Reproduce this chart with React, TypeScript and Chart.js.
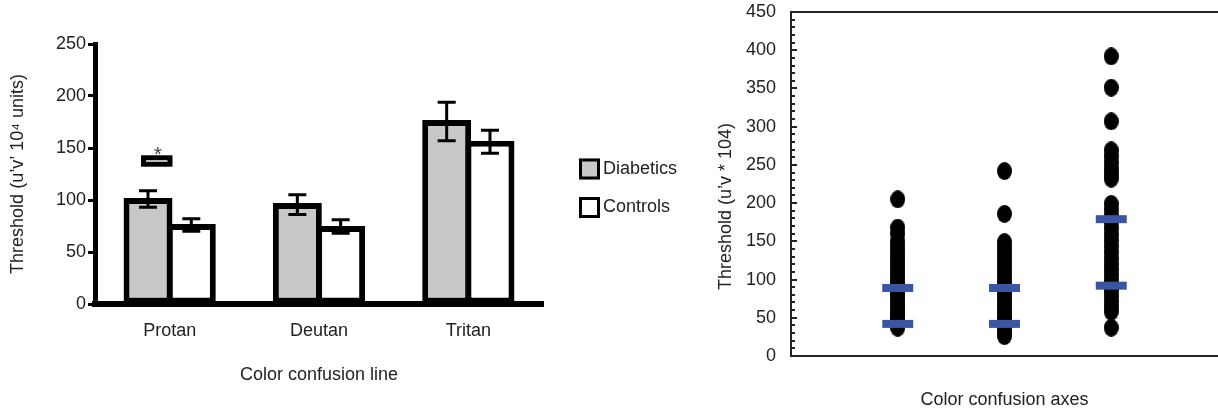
import React, { useEffect, useRef } from "react";
import { Chart, registerables } from "chart.js";

Chart.register(...registerables);

// ---------- Left chart data ----------
const categories = ["Protan", "Deutan", "Tritan"];
const diabeticsMean = [102, 97, 177];
const controlsMean = [77, 75, 157];
const diabeticsLow = [93, 86, 157];
const diabeticsHigh = [109, 105, 194];
const controlsLow = [70, 68, 145];
const controlsHigh = [82, 81, 167];
const significanceRange = [132, 143]; // bracket over Protan
const barAxisMax = 250;
const barAxisStep = 50;

// ---------- Right chart data ----------
const protanDots = [205, 168, 160, 150, 143, 136, 130, 124, 118, 112, 106, 100, 95, 90, 85, 80, 75, 70, 65, 60, 56, 52, 48, 44, 40, 37];
const deutanDots = [242, 186, 149, 143, 137, 131, 125, 119, 113, 107, 101, 96, 91, 86, 81, 76, 71, 66, 61, 56, 51, 46, 41, 36, 31, 26];
const tritanDots = [392, 351, 307, 269, 261, 253, 245, 238, 232, 199, 191, 183, 175, 167, 159, 151, 143, 135, 127, 120, 113, 106, 99, 92, 85, 78, 71, 64, 58, 37];
const upperMarks = [89, 89, 179];
const lowerMarks = [42, 42, 92];
const dotAxisMax = 450;
const dotAxisStep = 50;
const dotMinorStep = 10;

const FONT = "'Liberation Sans', Arial, Helvetica, sans-serif";
const TEXT = "#222";
const GRAY = "#c8c8c8";
const BLUE = "#3a55a4";

const errorBarPlugin = {
  id: "errorBars",
  afterDatasetsDraw(chart: any) {
    const ctx = chart.ctx;
    const y = chart.scales.y;
    const sets = [
      [diabeticsLow, diabeticsHigh],
      [controlsLow, controlsHigh],
    ];
    ctx.save();
    ctx.strokeStyle = "#000";
    ctx.lineWidth = 3;
    sets.forEach(([lo, hi], di) => {
      const meta = chart.getDatasetMeta(di);
      meta.data.forEach((bar: any, i: number) => {
        const x = bar.x;
        const y1 = y.getPixelForValue(hi[i]);
        const y2 = y.getPixelForValue(lo[i]);
        ctx.beginPath();
        ctx.moveTo(x, y1);
        ctx.lineTo(x, y2);
        ctx.moveTo(x - 9, y1);
        ctx.lineTo(x + 9, y1);
        ctx.moveTo(x - 9, y2);
        ctx.lineTo(x + 9, y2);
        ctx.stroke();
      });
    });
    // significance bracket on Protan
    const bar: any = chart.getDatasetMeta(0).data[0];
    const x1 = bar.x - 7;
    const x2 = bar.x + bar.width / 2;
    const yTop = y.getPixelForValue(significanceRange[1]);
    const yBot = y.getPixelForValue(significanceRange[0]);
    ctx.fillStyle = "#fff";
    ctx.fillRect(x1, yTop, x2 - x1, yBot - yTop);
    ctx.lineWidth = 5;
    ctx.strokeRect(x1 + 2.5, yTop + 2.5, x2 - x1 - 5, yBot - yTop - 5);
    ctx.fillStyle = "#444";
    ctx.font = `21px ${FONT}`;
    ctx.textAlign = "center";
    ctx.textBaseline = "alphabetic";
    ctx.fillText("*", (x1 + x2) / 2 + 1, yTop + 6);
    ctx.restore();
  },
};

const sideLegendPlugin = {
  id: "sideLegend",
  afterDraw(chart: any) {
    const { ctx, chartArea } = chart;
    const x = chartArea.right + 36;
    const cy = (chartArea.top + chartArea.bottom) / 2;
    ctx.save();
    chart.data.datasets.forEach((ds: any, i: number) => {
      const yc = cy - 5 + i * 38.5;
      ctx.fillStyle = ds.backgroundColor;
      ctx.fillRect(x, yc - 10.5, 21, 21);
      ctx.strokeStyle = "#000";
      ctx.lineWidth = 3;
      ctx.strokeRect(x + 1.5, yc - 9, 18, 18);
      ctx.fillStyle = TEXT;
      ctx.font = `18px ${FONT}`;
      ctx.textAlign = "left";
      ctx.textBaseline = "middle";
      ctx.fillText(ds.label, x + 24, yc);
    });
    ctx.restore();
  },
};

const frameTickPlugin = {
  id: "frameTicks",
  afterDraw(chart: any) {
    const { ctx, chartArea } = chart;
    const y = chart.scales.y;
    ctx.save();
    ctx.strokeStyle = "#222";
    ctx.lineWidth = 2;
    // top frame line
    ctx.beginPath();
    ctx.moveTo(chartArea.left, chartArea.top);
    ctx.lineTo(chartArea.right, chartArea.top);
    ctx.stroke();
    // inward minor / major ticks
    for (let v = 0; v <= dotAxisMax; v += dotMinorStep) {
      const py = Math.round(y.getPixelForValue(v));
      const len = v % dotAxisStep === 0 ? 6 : 4;
      ctx.beginPath();
      ctx.moveTo(chartArea.left, py);
      ctx.lineTo(chartArea.left + len, py);
      ctx.stroke();
    }
    ctx.restore();
  },
};

function BarChart() {
  const ref = useRef<HTMLCanvasElement>(null);
  useEffect(() => {
    const chart = new Chart(ref.current!, {
      type: "bar",
      data: {
        labels: categories,
        datasets: [
          {
            label: "Diabetics",
            data: diabeticsMean,
            backgroundColor: GRAY,
            borderColor: "#000",
            borderWidth: 6,
            borderSkipped: false,
          },
          {
            label: "Controls",
            data: controlsMean,
            backgroundColor: "#ffffff",
            borderColor: "#000",
            borderWidth: 6,
            borderSkipped: false,
          },
        ],
      },
      options: {
        responsive: false,
        animation: false,
        layout: { autoPadding: false, padding: { top: 44, left: 0, right: 157, bottom: 0 } },
        plugins: { legend: { display: false }, tooltip: { enabled: false } },
        datasets: { bar: { categoryPercentage: 0.58, barPercentage: 1.13 } },
        scales: {
          x: {
            grid: { display: false, drawTicks: false },
            border: { color: "#000", width: 6 },
            ticks: { font: { family: FONT, size: 18 }, color: TEXT, padding: 16 },
            title: {
              display: true,
              text: "Color confusion line",
              font: { family: FONT, size: 18 },
              color: TEXT,
              padding: { top: 0, bottom: 25 },
            },
            afterFit(s: any) {
              s.height = 107;
            },
          },
          y: {
            min: 0,
            max: barAxisMax,
            ticks: { stepSize: barAxisStep, font: { family: FONT, size: 18 }, color: TEXT, padding: 2 },
            grid: {
              display: true,
              drawOnChartArea: false,
              drawTicks: true,
              tickLength: 7,
              tickWidth: 3,
              tickColor: "#000",
              color: "#000",
            },
            border: { color: "#000", width: 5 },
            title: {
              display: true,
              text: "Threshold (u\u2019v\u2019 10\u2074 units)",
              font: { family: FONT, size: 18 },
              color: TEXT,
              padding: { top: 7, bottom: 0 },
            },
            afterFit(s: any) {
              s.width = 95;
            },
          },
        },
      } as any,
      plugins: [errorBarPlugin, sideLegendPlugin],
    });
    return () => chart.destroy();
  }, []);
  return <canvas ref={ref} width={700} height={411} style={{ display: "block" }} />;
}

function DotChart() {
  const ref = useRef<HTMLCanvasElement>(null);
  useEffect(() => {
    const dot = document.createElement("canvas");
    dot.width = 15;
    dot.height = 18;
    const dctx = dot.getContext("2d")!;
    dctx.fillStyle = "#000";
    dctx.beginPath();
    dctx.ellipse(7.5, 9, 7.5, 9, 0, 0, Math.PI * 2);
    dctx.fill();

    const columns = [protanDots, deutanDots, tritanDots];
    const dotPoints = columns.flatMap((col, ci) => col.map((v) => ({ x: ci + 1, y: v })));
    const chart = new Chart(ref.current!, {
      type: "scatter",
      data: {
        datasets: [
          {
            label: "Upper",
            data: upperMarks.map((v, i) => ({ x: i + 1, y: v })),
            pointStyle: "line",
            pointRadius: 15.5,
            borderWidth: 8,
            borderColor: BLUE,
            backgroundColor: BLUE,
            order: 0,
          },
          {
            label: "Lower",
            data: lowerMarks.map((v, i) => ({ x: i + 1, y: v })),
            pointStyle: "line",
            pointRadius: 15.5,
            borderWidth: 8,
            borderColor: BLUE,
            backgroundColor: BLUE,
            order: 0,
          },
          {
            label: "Thresholds",
            data: dotPoints,
            pointStyle: dot,
            pointRadius: 8,
            order: 1,
          },
        ],
      },
      options: {
        responsive: false,
        animation: false,
        layout: { autoPadding: false, padding: { top: 12, left: 0, right: 0, bottom: 0 } },
        plugins: { legend: { display: false }, tooltip: { enabled: false } },
        scales: {
          x: {
            type: "linear",
            min: 0,
            max: 4,
            grid: { display: false, drawTicks: false },
            ticks: { display: false },
            border: { color: "#222", width: 2 },
            title: {
              display: true,
              text: "Color confusion axes",
              font: { family: FONT, size: 18 },
              color: TEXT,
              padding: { top: 0, bottom: 0 },
            },
            afterFit(s: any) {
              s.height = 55;
              s.paddingLeft = 0;
              s.paddingRight = 0;
            },
          },
          y: {
            min: 0,
            max: dotAxisMax,
            ticks: { stepSize: dotAxisStep, font: { family: FONT, size: 18 }, color: TEXT, padding: 15 },
            grid: { display: false, drawTicks: false },
            border: { color: "#222", width: 2 },
            title: {
              display: true,
              text: "Threshold (u\u2019v * 104)" + "\u00A0".repeat(9),
              font: { family: FONT, size: 18 },
              color: TEXT,
              padding: { top: 15, bottom: 0 },
            },
            afterFit(s: any) {
              s.width = 91;
              s.paddingTop = 0;
              s.paddingBottom = 0;
            },
          },
        },
      } as any,
      plugins: [frameTickPlugin],
    });
    return () => chart.destroy();
  }, []);
  return <canvas ref={ref} width={518} height={411} style={{ display: "block" }} />;
}

export default function App() {
  return (
    <div style={{ position: "fixed", left: 0, top: 0, width: 1218, height: 411, background: "#fff" }}>
      <div style={{ position: "absolute", left: 0, top: 0 }}>
        <BarChart />
      </div>
      <div style={{ position: "absolute", left: 700, top: 0 }}>
        <DotChart />
      </div>
    </div>
  );
}
